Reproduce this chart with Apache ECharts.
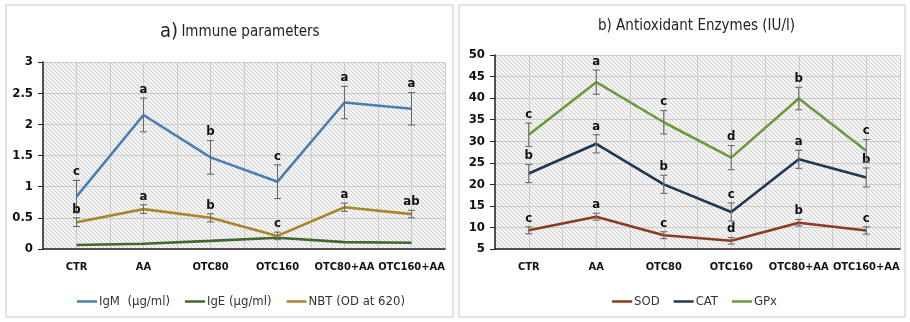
<!DOCTYPE html>
<html>
<head>
<meta charset="utf-8">
<script src="https://cdn.jsdelivr.net/npm/echarts@6/dist/echarts.min.js"></script>
<style>
html,body{margin:0;padding:0;background:#fff;}
#c{width:910px;height:322px;}
</style>
</head>
<body>
<div id="c"></div>
<script>
var categories = ['CTR', 'AA', 'OTC80', 'OTC160', 'OTC80+AA', 'OTC160+AA'];

// a) Immune parameters
var igmMean = [0.84, 2.15, 1.47, 1.08, 2.35, 2.25];
var igmErr  = [0.26, 0.27, 0.27, 0.27, 0.26, 0.26];
var igmLetters = ['c', 'a', 'b', 'c', 'a', 'a'];
var igeMean = [0.065, 0.085, 0.13, 0.18, 0.11, 0.10];
var nbtMean = [0.43, 0.64, 0.50, 0.21, 0.67, 0.56];
var nbtErr  = [0.07, 0.07, 0.065, 0.06, 0.065, 0.06];
var nbtLetters = ['b', 'a', 'b', 'c', 'a', 'ab'];
var leftTicks = [0, 0.5, 1, 1.5, 2, 2.5, 3];

// b) Antioxidant enzymes (IU/l)
var sodMean = [9.35, 12.5, 8.2, 6.9, 11.1, 9.3];
var sodErr  = [0.8, 0.8, 0.8, 0.75, 0.75, 0.85];
var sodLetters = ['c', 'a', 'c', 'd', 'b', 'c'];
var catMean = [22.5, 29.4, 20.0, 13.6, 25.8, 21.6];
var catErr  = [2.1, 2.1, 2.1, 2.1, 2.1, 2.2];
var catLetters = ['b', 'a', 'b', 'c', 'a', 'b'];
var gpxMean = [31.5, 43.7, 34.4, 26.2, 39.9, 27.8];
var gpxErr  = [2.7, 2.8, 2.7, 2.8, 2.6, 2.6];
var gpxLetters = ['c', 'a', 'c', 'd', 'b', 'c'];
var rightTicks = [5, 10, 15, 20, 25, 30, 35, 40, 45, 50];

var FONT = '"Liberation Sans Narrow","DejaVu Sans Condensed","Roboto Condensed",sans-serif';

// hatched background pattern
var pc = document.createElement('canvas');
pc.width = 4; pc.height = 4;
var px = pc.getContext('2d');
px.fillStyle = '#f5f5f5';
px.fillRect(0, 0, 4, 4);
px.strokeStyle = '#c8c8c8';
px.lineWidth = 0.9;
px.beginPath();
px.moveTo(-1, -1); px.lineTo(5, 5);
px.moveTo(-1, 3); px.lineTo(1, 5);
px.moveTo(3, -1); px.lineTo(5, 1);
px.stroke();
var hatch = {image: pc, repeat: 'repeat'};

function errData(mean, err, letters) {
  return mean.map(function (m, i) { return [i, m - err[i], m + err[i], letters[i]]; });
}

function errSeries(name, xi, yi, mean, err, letters) {
  return {
    type: 'custom',
    name: name + '_err',
    xAxisIndex: xi,
    yAxisIndex: yi,
    z: 5,
    silent: true,
    data: errData(mean, err, letters),
    renderItem: function (params, api) {
      var x = api.value(0);
      var lo = api.coord([x, api.value(1)]);
      var hi = api.coord([x, api.value(2)]);
      var w = 3.5;
      var st = {stroke: '#6b6b6b', lineWidth: 1.1};
      return {
        type: 'group',
        children: [
          {type: 'line', shape: {x1: lo[0], y1: lo[1], x2: hi[0], y2: hi[1]}, style: st},
          {type: 'line', shape: {x1: lo[0] - w, y1: lo[1], x2: lo[0] + w, y2: lo[1]}, style: st},
          {type: 'line', shape: {x1: hi[0] - w, y1: hi[1], x2: hi[0] + w, y2: hi[1]}, style: st},
          {type: 'text', x: hi[0], y: hi[1] - 2, style: {
            text: api.value(3), fill: '#111', font: 'bold 13px ' + FONT,
            textAlign: 'center', textVerticalAlign: 'bottom'}}
        ]
      };
    }
  };
}

function lineSeries(name, xi, yi, data, color) {
  return {
    type: 'line', name: name, xAxisIndex: xi, yAxisIndex: yi,
    data: data, symbol: 'none', z: 4,
    lineStyle: {color: color, width: 2.6},
    itemStyle: {color: color}
  };
}

var axisLabelStyle = {color: '#111', fontWeight: 'bold', fontSize: 13, fontFamily: FONT};
var xLabelStyle = {color: '#111', fontWeight: 'bold', fontSize: 11, fontFamily: FONT, interval: 0, margin: 13};

var chart = echarts.init(document.getElementById('c'), null, {renderer: 'canvas'});
chart.setOption({
  animation: false,
  backgroundColor: '#ffffff',
  graphic: [
    {type: 'rect', shape: {x: 6, y: 5, width: 447, height: 312}, style: {fill: 'none', stroke: '#dcdcdc', lineWidth: 1.5}, z: -10},
    {type: 'rect', shape: {x: 459, y: 5, width: 446, height: 312}, style: {fill: 'none', stroke: '#dcdcdc', lineWidth: 1.5}, z: -10},
    {type: 'text', left: 160, top: 22, style: {
      text: '{a|a)} {b|Immune parameters}',
      rich: {a: {fontSize: 20, fontFamily: FONT, fill: '#222'}, b: {fontSize: 15, fontFamily: FONT, fill: '#222'}}
    }},
    {type: 'text', left: 598, top: 19, style: {
      text: 'b) Antioxidant Enzymes (IU/l)', fontSize: 15, fontFamily: FONT, fill: '#222'
    }}
  ],
  legend: [
    {
      data: ['IgM  (µg/ml)', 'IgE (µg/ml)', 'NBT (OD at 620)'],
      left: 72, top: 290, icon: 'rect', itemWidth: 20, itemHeight: 2.5, itemGap: 15,
      textStyle: {color: '#333', fontSize: 13, fontFamily: FONT, padding: [0, 0, 0, -3]}
    },
    {
      data: ['SOD', 'CAT', 'GPx'],
      left: 607, top: 290, icon: 'rect', itemWidth: 20, itemHeight: 2.5, itemGap: 14,
      textStyle: {color: '#333', fontSize: 13, fontFamily: FONT, padding: [0, 0, 0, -3]}
    }
  ],
  grid: [
    {left: 43, right: 465, top: 62, bottom: 73, show: true, backgroundColor: hatch, borderWidth: 0},
    {left: 495, right: 10, top: 55, bottom: 73, show: true, backgroundColor: hatch, borderWidth: 0}
  ],
  xAxis: [
    {type: 'category', gridIndex: 0, data: categories, boundaryGap: true,
      axisLine: {lineStyle: {color: '#222', width: 1.5}},
      axisTick: {alignWithLabel: true, interval: 0, length: 4, lineStyle: {color: '#222'}},
      axisLabel: xLabelStyle,
      splitLine: {show: false}},
    {type: 'category', gridIndex: 1, data: categories, boundaryGap: true,
      axisLine: {lineStyle: {color: '#222', width: 1.5}},
      axisTick: {alignWithLabel: true, interval: 0, length: 4, lineStyle: {color: '#222'}},
      axisLabel: xLabelStyle,
      splitLine: {show: false}},
    {type: 'value', gridIndex: 0, min: 0, max: 12, interval: 1,
      axisLine: {show: false}, axisTick: {show: false}, axisLabel: {show: false},
      splitLine: {show: true, lineStyle: {color: '#cccccc', width: 1}}},
    {type: 'value', gridIndex: 1, min: 0, max: 12, interval: 1,
      axisLine: {show: false}, axisTick: {show: false}, axisLabel: {show: false},
      splitLine: {show: true, lineStyle: {color: '#cccccc', width: 1}}}
  ],
  yAxis: [
    {type: 'value', gridIndex: 0, min: leftTicks[0], max: leftTicks[leftTicks.length - 1], interval: 0.5,
      axisLine: {show: true, lineStyle: {color: '#222', width: 1.5}},
      axisTick: {show: true, length: 5, lineStyle: {color: '#222'}},
      axisLabel: Object.assign({margin: 10}, axisLabelStyle),
      splitLine: {show: true, lineStyle: {color: '#cccccc', width: 1}}},
    {type: 'value', gridIndex: 1, min: rightTicks[0], max: rightTicks[rightTicks.length - 1], interval: 5,
      axisLine: {show: true, lineStyle: {color: '#222', width: 1.5}},
      axisTick: {show: true, length: 5, lineStyle: {color: '#222'}},
      axisLabel: Object.assign({margin: 10}, axisLabelStyle),
      splitLine: {show: true, lineStyle: {color: '#cccccc', width: 1}}}
  ],
  series: [
    lineSeries('IgM  (µg/ml)', 0, 0, igmMean, '#4a7fb3'),
    lineSeries('IgE (µg/ml)', 0, 0, igeMean, '#3f6a2c'),
    lineSeries('NBT (OD at 620)', 0, 0, nbtMean, '#a8862a'),
    errSeries('IgM', 0, 0, igmMean, igmErr, igmLetters),
    errSeries('NBT', 0, 0, nbtMean, nbtErr, nbtLetters),
    lineSeries('SOD', 1, 1, sodMean, '#8a3c1c'),
    lineSeries('CAT', 1, 1, catMean, '#1f3853'),
    lineSeries('GPx', 1, 1, gpxMean, '#6a9c3c'),
    errSeries('SOD', 1, 1, sodMean, sodErr, sodLetters),
    errSeries('CAT', 1, 1, catMean, catErr, catLetters),
    errSeries('GPx', 1, 1, gpxMean, gpxErr, gpxLetters)
  ]
});
</script>
</body>
</html>
